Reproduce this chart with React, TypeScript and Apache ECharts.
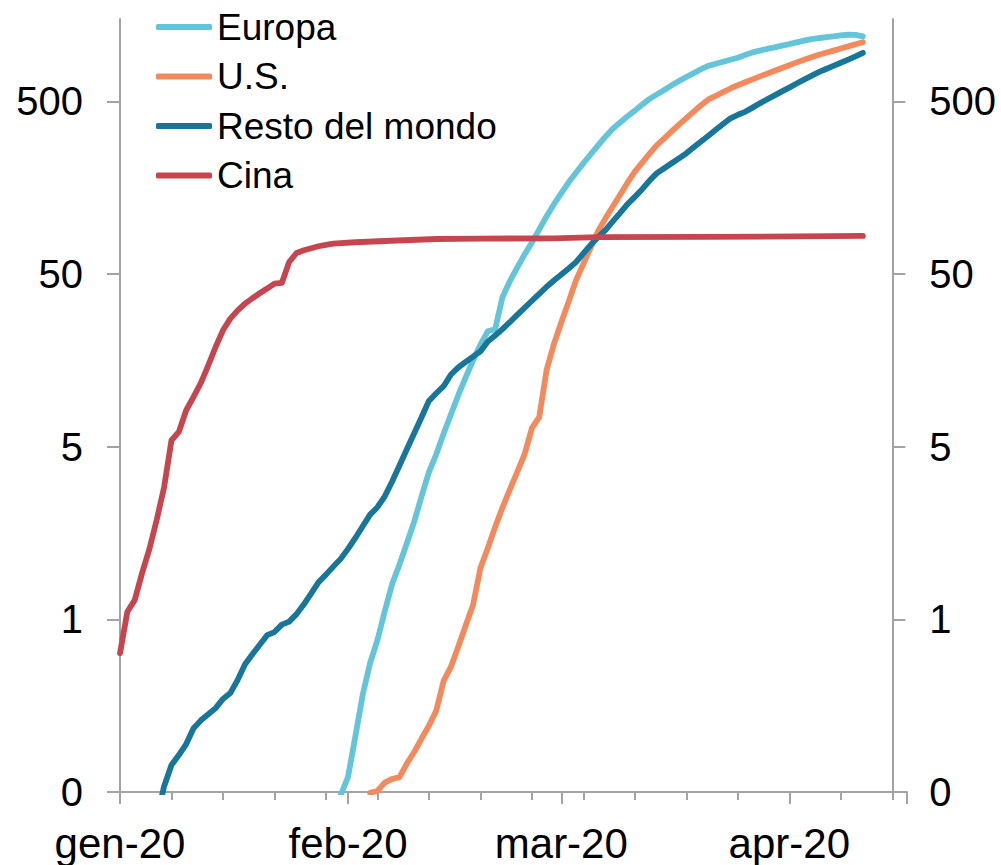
import React, { useEffect, useRef } from "react";
import * as echarts from "echarts";

// ---- data (day offsets from 1 Jan 2020; values on a log scale) ----
const BASE = 0.05; // bottom of the axis (label "0")
const Y_TOP = 1500; // top of the axis
const yTickLabels = ["0", "1", "5", "50", "500"];
const monthLabels = ["gen-20", "feb-20", "mar-20", "apr-20"];
const monthStartDays = [0, 31, 60, 91];
const weekTickDays = [0, 7, 14, 21, 28, 35, 42, 49, 56, 63, 70, 77, 84, 91, 98, 105];
const majorTickDays = [0, 31, 60, 91, 107];
const X_MAX = 107;

const europaStart = 30;
const europaValues = [
  0.048, 0.061, 0.105, 0.183, 0.279, 0.379, 0.558, 0.8, 1.04, 1.38, 1.84, 2.58,
  3.56, 4.52, 5.95, 7.71, 9.97, 12.6, 15.8, 19.5, 23.3, 23.9, 36.7, 45.4, 54.4,
  64.8, 76.0, 90.6, 108, 127, 147, 170, 193, 219, 247, 278, 312, 347, 377, 410,
  442, 479, 517, 549, 582, 619, 656, 692, 729, 768, 803, 825, 848, 872, 895,
  927, 961, 984, 1007, 1028, 1052, 1074, 1099, 1123, 1147, 1164, 1176, 1191,
  1205, 1216, 1214, 1189,
];

const usStart = 34;
const usValues = [
  0.0495, 0.0507, 0.0567, 0.0595, 0.061, 0.0731, 0.0852, 0.102, 0.121, 0.148,
  0.22, 0.266, 0.348, 0.461, 0.605, 0.99, 1.29, 1.71, 2.22, 2.82, 3.56, 4.51,
  6.4, 7.42, 13.9, 19.7, 26.3, 34.6, 46.0, 57.3, 71.2, 88.4, 105, 123, 144, 169,
  196, 221, 249, 279, 305, 335, 367, 400, 436, 475, 513, 538, 565, 594, 620,
  645, 671, 698, 724, 752, 781, 810, 841, 871, 901, 931, 957, 984, 1012, 1041,
  1070, 1101,
];

const restoStart = 5;
const restoValues = [
  0.035, 0.054, 0.0717, 0.0818, 0.0948, 0.117, 0.13, 0.141, 0.153, 0.173, 0.187,
  0.223, 0.275, 0.314, 0.356, 0.405, 0.422, 0.466, 0.485, 0.536, 0.611, 0.707,
  0.821, 0.908, 1.01, 1.12, 1.28, 1.48, 1.73, 2.02, 2.23, 2.58, 3.14, 3.89,
  4.83, 5.98, 7.41, 9.21, 10.2, 11.2, 13.1, 14.4, 15.5, 16.6, 17.8, 20.3, 22.0,
  24.0, 26.3, 29.0, 31.8, 35.0, 38.4, 42.2, 45.9, 49.7, 53.8, 58.6, 65.8, 73.8,
  81.7, 89.7, 101, 113, 127, 140, 155, 174, 192, 205, 219, 234, 250, 271, 293,
  316, 342, 370, 399, 418, 435, 460, 487, 514, 542, 571, 601, 634, 668, 703,
  738, 770, 803, 837, 873, 911, 955,
];

const cinaDays = [
  0, 1, 2, 3, 4, 5, 6, 7, 8, 9, 10, 11, 12, 13, 14, 15, 16, 17, 18, 19, 20, 21,
  22, 23, 24, 25, 26, 27, 28, 29, 32, 36, 43, 49, 59, 65, 79, 101,
];
const cinaValues = [
  0.318, 0.553, 0.646, 0.926, 1.28, 1.89, 2.92, 5.45, 6.09, 8.13, 9.71, 11.7,
  14.8, 18.9, 23.6, 27.6, 30.8, 33.7, 36.2, 38.7, 41.2, 44.0, 44.4, 58.7, 66.2,
  68.6, 70.5, 72.4, 73.8, 75.0, 76.4, 77.7, 79.8, 80.2, 80.5, 81.9, 82.0, 83.1,
];

const seriesNames = ["Europa", "U.S.", "Resto del mondo", "Cina"];
const seriesColors = ["#63C4DA", "#F28A5D", "#17769A", "#C5464E"];

// ---- helpers ----
const toLog = (v: number) => Math.log10(v / BASE);
const fromStart = (start: number, vals: number[]) =>
  vals.map((v, i) => [start + i, toLog(v)]);
const fromPairs = (days: number[], vals: number[]) =>
  vals.map((v, i) => [days[i], toLog(v)]);

const FONT = "'Liberation Sans', Arial, sans-serif";
const AXIS_GRAY = "#A3A3A3";
const yTickVals = yTickLabels.map((_, i) => i);

export default function App() {
  const ref = useRef<HTMLDivElement>(null);

  useEffect(() => {
    if (!ref.current) return;
    const chart = echarts.init(ref.current, undefined, { renderer: "svg" });

    const datasets = [
      fromStart(europaStart, europaValues),
      fromStart(usStart, usValues),
      fromStart(restoStart, restoValues),
      fromPairs(cinaDays, cinaValues),
    ];

    const yAxisBase = (position: "left" | "right", offset: number) => ({
      type: "value",
      position,
      offset,
      min: 0,
      max: toLog(Y_TOP),
      splitLine: { show: false },
      axisLine: { show: true, onZero: false, lineStyle: { color: AXIS_GRAY, width: 2 } },
      axisTick: {
        show: true,
        inside: false,
        length: 13,
        customValues: yTickVals,
        lineStyle: { color: AXIS_GRAY, width: 2 },
      },
      axisLabel: {
        show: true,
        customValues: yTickVals,
        margin: 37,
        fontSize: 40,
        fontFamily: FONT,
        color: "#000",
        formatter: (v: number) => {
          const i = Math.round(v);
          return Math.abs(v - i) < 1e-6 && yTickLabels[i] !== undefined ? yTickLabels[i] : "";
        },
      },
    });

    chart.setOption({
      animation: false,
      backgroundColor: "#ffffff",
      grid: {
        left: 120,
        right: 94,
        top: 19,
        bottom: 73,
        containLabel: false,
        outerBoundsMode: "none",
      },
      legend: {
        data: seriesNames,
        orient: "vertical",
        left: 151,
        top: 2,
        icon: "roundRect",
        itemWidth: 56,
        itemHeight: 6,
        itemGap: 9.5,
        textStyle: {
          fontSize: 37,
          lineHeight: 40,
          fontFamily: FONT,
          color: "#000",
          padding: [0, 0, 0, 0],
        },
        selectedMode: false,
      },
      xAxis: [
        {
          type: "value",
          min: 0,
          max: X_MAX,
          position: "bottom",
          splitLine: { show: false },
          axisLine: { show: true, onZero: false, lineStyle: { color: AXIS_GRAY, width: 2 } },
          axisTick: {
            show: true,
            length: 8,
            customValues: weekTickDays,
            lineStyle: { color: AXIS_GRAY, width: 2 },
          },
          axisLabel: { show: false },
        },
        {
          type: "value",
          min: 0,
          max: X_MAX,
          position: "bottom",
          offset: 0,
          splitLine: { show: false },
          axisLine: { show: false, onZero: false },
          axisTick: {
            show: true,
            length: 12,
            customValues: majorTickDays,
            lineStyle: { color: AXIS_GRAY, width: 2 },
          },
          axisLabel: {
            show: true,
            customValues: monthStartDays,
            margin: 30,
            fontSize: 42,
            fontFamily: FONT,
            color: "#000",
            formatter: (v: number) => {
              const i = monthStartDays.indexOf(Math.round(v));
              return i >= 0 ? monthLabels[i] : "";
            },
          },
        },
      ],
      yAxis: [yAxisBase("left", 0), yAxisBase("right", -14.7)],
      series: datasets.map((data, i) => ({
        name: seriesNames[i],
        type: "line",
        xAxisIndex: 0,
        yAxisIndex: 0,
        data,
        showSymbol: false,
        symbol: "none",
        clip: true,
        color: seriesColors[i],
        lineStyle: { width: 5.8, color: seriesColors[i], cap: "round", join: "round" },
        itemStyle: { color: seriesColors[i] },
        z: 2 + i,
      })),
    });

    return () => chart.dispose();
  }, []);

  return (
    <div
      ref={ref}
      style={{
        position: "fixed",
        left: 0,
        top: 0,
        width: 1001,
        height: 865,
        background: "#fff",
      }}
    />
  );
}
